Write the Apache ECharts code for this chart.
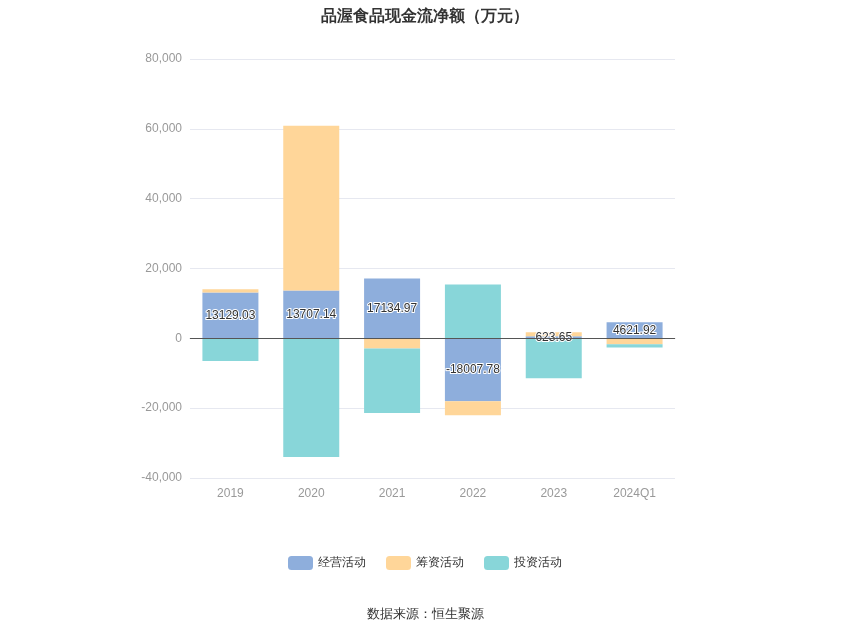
<!DOCTYPE html>
<html><head><meta charset="utf-8">
<script src="https://cdn.jsdelivr.net/npm/echarts@6/dist/echarts.min.js"></script>
</head><body style="margin:0">
<div id="c" style="width:850px;height:637px"></div>
<script>
const categories = ['2019','2020','2021','2022','2023','2024Q1'];
const operating = [13129.03, 13707.14, 17134.97, -18007.78, 623.65, 4621.92];
const financing = [900, 47150, -2900, -4000, 1100, -1700];
const investing = [-6500, -34000, -18500, 15400, -11400, -900];
const yTicks = [-40000, 80000, 20000];
const chart = echarts.init(document.getElementById('c'));
chart.setOption({
  title: {text: '品渥食品现金流净额（万元）', left: 'center', top: 4, textStyle: {fontSize: 16, fontWeight: 'bold', color: '#333'}},
  legend: {bottom: 62, itemWidth: 25, itemHeight: 14, itemGap: 20, textStyle: {color: '#333', fontSize: 12},
    data: ['经营活动','筹资活动','投资活动']},
  grid: {left: 190, right: 175, top: 59, bottom: 159},
  xAxis: {type: 'category', data: categories, axisLine: {lineStyle: {color: '#ccc'}}, axisTick: {show: false},
    axisLabel: {color: '#999', fontSize: 12, margin: 10}},
  yAxis: {type: 'value', min: yTicks[0], max: yTicks[1], interval: yTicks[2],
    axisLabel: {color: '#999', fontSize: 12, formatter: v => v.toLocaleString('en-US')},
    splitLine: {lineStyle: {color: '#e6e8f0'}}, axisLine: {show: false}},
  series: [
    {name: '经营活动', type: 'bar', stack: 't', data: operating, barWidth: 56, itemStyle: {color: '#8eaedc'},
      label: {show: true, position: 'inside', color: '#333', fontSize: 12, textBorderColor: '#fff', textBorderWidth: 2}},
    {name: '筹资活动', type: 'bar', stack: 't', data: financing, itemStyle: {color: '#ffd699'}},
    {name: '投资活动', type: 'bar', stack: 't', data: investing, itemStyle: {color: '#88d6d9'},
      markLine: {silent: true, symbol: 'none', label: {show: false}, lineStyle: {color: '#555', type: 'solid', width: 1}, data: [{yAxis: 0}]}}
  ],
  graphic: [{type: 'text', left: 'center', top: 608, style: {text: '数据来源：恒生聚源', fill: '#333', fontSize: 13}}]
});
</script></body></html>
